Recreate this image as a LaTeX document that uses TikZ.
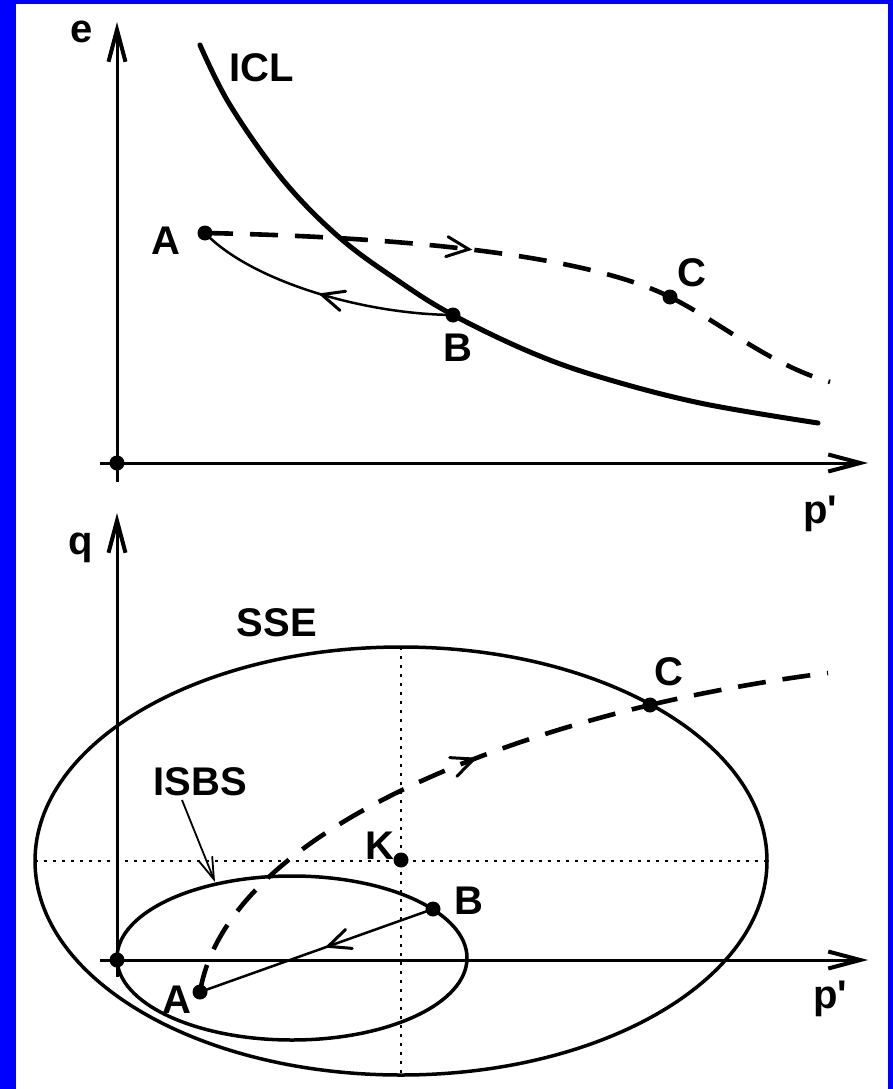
\documentclass[tikz,border=0pt]{standalone}
\usepackage{fontspec}
\setmainfont{Liberation Sans}
\usetikzlibrary{arrows.meta,decorations.markings}
\definecolor{frameblue}{RGB}{0,0,255}
\begin{document}
\begin{tikzpicture}[x=1pt,y=-1pt,
  lab/.style={font=\fontsize{40}{42}\selectfont\bfseries, inner sep=0pt},
  dot/.style={circle,fill=black,inner sep=0pt,minimum size=15pt},
  axisline/.style={line width=3pt,-{Straight Barb[length=32pt,width=17pt,line width=4pt]}},
  iclcurve/.style={line width=5pt,line cap=round},
  dashcurve/.style={line width=4.6pt,dash pattern=on 28pt off 17pt},
  thincurve/.style={line width=2.5pt},
  ellipseline/.style={line width=3.5pt},
  dotline/.style={line width=2.4pt,dash pattern=on 3pt off 6pt},
  vmark/.style={postaction={decorate,decoration={markings,
     mark=at position #1 with {\draw[solid,line width=3pt,line cap=round,line join=miter] (-22pt,10pt) -- (0pt,0pt) -- (-22pt,-10pt);}}}}
]
\useasboundingbox (0,0) rectangle (893,1089);
\fill[frameblue] (0,0) rectangle (893,1089);
\fill[white] (16,4) rectangle (888,1089);

% ===== top diagram =====
\coordinate (eBot) at (117,482);
\coordinate (eTop) at (117,22);
\coordinate (pLeft) at (100,463);
\coordinate (pRight) at (868,463);
\draw[axisline] (eBot) -- (eTop);
\draw[axisline] (pLeft) -- (pRight);
\node[dot] (O1) at (117,463) {};
\node[lab,anchor=base west] (elab) at (70,43) {e};
\node[lab,anchor=base west] (p1lab) at (803,523) {p\textquotesingle};

\draw[iclcurve] plot[smooth,tension=0.6] coordinates {(200,45) (230,105) (283,180) (340,238) (400,282) (453,315) (530,352) (600,377) (700,403) (818,423)};
\node[lab] (icl) at (262,68) {ICL};

\node[dot] (A1) at (205,233) {};
\node[dot] (B1) at (453,315) {};
\node[dot] (C1) at (670,297) {};
\coordinate (E1) at (830,382);
\node[lab] (A1lab) at (166,241) {A};
\node[lab] (B1lab) at (458,348) {B};
\node[lab] (C1lab) at (692,273) {C};

\draw[dashcurve,vmark=0.56] (A1.center) .. controls (450,238) and (600,262) .. (C1.center);
\draw[dashcurve] (C1.center) .. controls (720,322) and (770,365) .. (E1);
\draw[thincurve,vmark=0.5] (B1.center) .. controls (360,314) and (250,280) .. (A1.center);

% ===== bottom diagram =====
\coordinate (qBot) at (117,977);
\coordinate (qTop) at (117,513);
\coordinate (p2Left) at (100,960);
\coordinate (p2Right) at (868,960);
\draw[axisline] (qBot) -- (qTop);
\draw[axisline] (p2Left) -- (p2Right);
\node[lab,anchor=base west] (qlab) at (68,554) {q};
\node[lab,anchor=base west] (p2lab) at (813,1008) {p\textquotesingle};

\draw[ellipseline] (401,861) ellipse [x radius=366pt, y radius=214pt];
\draw[ellipseline] (292,958) ellipse [x radius=175pt, y radius=82pt];
\node[lab] (sse) at (277,623) {SSE};
\node[lab] (isbs) at (200,782) {ISBS};
\coordinate (isbsFrom) at (182,800);
\coordinate (isbsTip) at (215,882);
\draw[line width=1.8pt,-{Straight Barb[length=22pt,width=14pt,line width=1.8pt]}] (isbsFrom) -- (isbsTip);

\draw[dotline] (401,647) -- (401,1075);
\draw[dotline] (35,861) -- (768,861);

\node[dot] (O2) at (117,960) {};
\node[dot] (K) at (401,860) {};
\node[dot] (A2) at (200,992) {};
\node[dot] (B2) at (433,909) {};
\node[dot] (C2) at (650,705) {};
\coordinate (E2) at (828,673);
\node[lab] (Klab) at (380,846) {K};
\node[lab] (A2lab) at (177,1000) {A};
\node[lab] (B2lab) at (469,901) {B};
\node[lab] (C2lab) at (669,672) {C};

\draw[thincurve,vmark=0.45] (B2.center) -- (A2.center);
\draw[dashcurve,vmark=0.67] (A2.center) .. controls (222,860) and (420,760) .. (C2.center);
\draw[dashcurve] (C2.center) .. controls (700,693) and (770,680) .. (E2);
\end{tikzpicture}
\end{document}
